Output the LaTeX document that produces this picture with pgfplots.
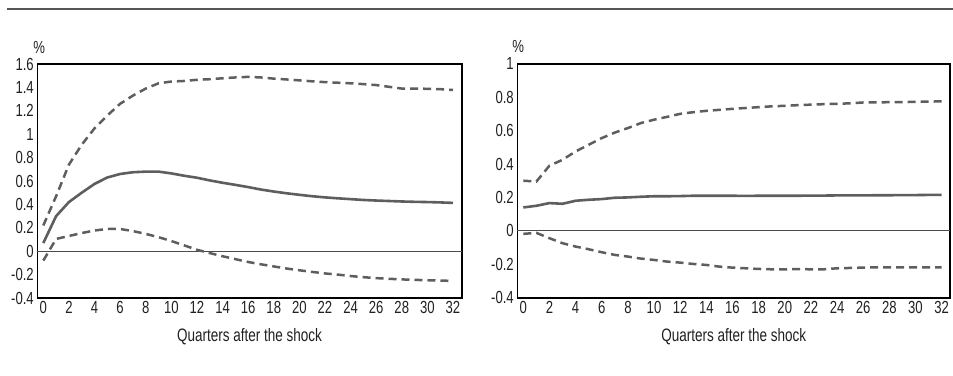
\documentclass[border=0pt]{standalone}
\usepackage{fontspec}
\setmainfont{Liberation Sans}[FakeStretch=0.75]
\usepackage{pgfplots}
\pgfplotsset{compat=1.18}
\usepackage{pgfplotstable}
\definecolor{ser}{HTML}{5E5E5E}
\definecolor{txt}{HTML}{231F20}

\pgfplotstableread{
q u s l
0 0.22 0.07 -0.08
1 0.47 0.30 0.105
2 0.74 0.42 0.13
3 0.91 0.50 0.155
4 1.05 0.575 0.177
5 1.16 0.63 0.19
6 1.26 0.66 0.19
7 1.33 0.675 0.172
8 1.39 0.68 0.148
9 1.435 0.68 0.12
10 1.45 0.665 0.087
11 1.455 0.645 0.05
12 1.465 0.628 0.012
13 1.47 0.605 -0.016
14 1.478 0.585 -0.043
15 1.485 0.567 -0.068
16 1.49 0.548 -0.092
17 1.485 0.527 -0.112
18 1.475 0.51 -0.13
19 1.468 0.495 -0.148
20 1.46 0.482 -0.163
21 1.452 0.47 -0.177
22 1.445 0.46 -0.19
23 1.44 0.452 -0.2
24 1.435 0.445 -0.212
25 1.428 0.438 -0.222
26 1.42 0.433 -0.23
27 1.405 0.429 -0.236
28 1.39 0.425 -0.241
29 1.39 0.422 -0.245
30 1.388 0.42 -0.248
31 1.385 0.417 -0.251
32 1.378 0.413 -0.254
}\left

\pgfplotstableread{
q u s l
0 0.30 0.14 -0.018
1 0.295 0.15 -0.012
2 0.39 0.166 -0.044
3 0.425 0.162 -0.074
4 0.475 0.18 -0.094
5 0.515 0.186 -0.11
6 0.555 0.19 -0.128
7 0.588 0.198 -0.144
8 0.615 0.2 -0.154
9 0.645 0.204 -0.166
10 0.665 0.207 -0.174
11 0.682 0.207 -0.184
12 0.70 0.208 -0.19
13 0.71 0.21 -0.198
14 0.718 0.21 -0.204
15 0.724 0.21 -0.214
16 0.73 0.21 -0.22
17 0.735 0.209 -0.224
18 0.74 0.21 -0.228
19 0.745 0.21 -0.23
20 0.748 0.21 -0.23
21 0.752 0.21 -0.229
22 0.755 0.211 -0.23
23 0.758 0.211 -0.23
24 0.76 0.212 -0.224
25 0.763 0.212 -0.222
26 0.768 0.212 -0.22
27 0.768 0.213 -0.218
28 0.77 0.213 -0.218
29 0.77 0.214 -0.218
30 0.772 0.214 -0.218
31 0.773 0.215 -0.218
32 0.775 0.215 -0.218
}\right

\pgfplotsset{
  base/.style={
    scale only axis,
    height=234pt,
    axis line style={line width=1.6pt, black},
    major tick length=0pt,
    xtick={0,2,...,32},
    xticklabels={0,2,4,6,8,10,12,14,16,18,20,22,24,26,28,30,32},
    tick label style={font=\fontsize{17.5}{20}\selectfont, text=txt},
    clip=false,
  },
  up/.style={color=ser, line width=2.5pt, dash pattern=on 8pt off 5pt},
  mid/.style={color=ser, line width=2.6pt},
}

\begin{document}
\begin{tikzpicture}
\useasboundingbox (0pt,0pt) rectangle (953pt,-375pt);
\draw[line width=1.5pt, color=ser!90!black] (7pt,-9pt) -- (953pt,-9pt);

\begin{axis}[base,
  at={(37.3pt,-298pt)}, anchor=south west,
  width=424.4pt,
  xmin=-0.47, xmax=32.68, ymin=-0.4, ymax=1.6,
  ytick={-0.4,-0.2,0,0.2,0.4,0.6,0.8,1,1.2,1.4,1.6},
  yticklabels={-0.4,-0.2,0,0.2,0.4,0.6,0.8,1,1.2,1.4,1.6},
]
\draw[line width=1.1pt, color=ser!80!black] (axis cs:-0.47,0) -- (axis cs:32.68,0);
\addplot[up] table[x=q,y=u] {\left};
\addplot[mid] table[x=q,y=s] {\left};
\addplot[up] table[x=q,y=l] {\left};
\node[text=txt, font=\fontsize{17.5}{20}\selectfont] at (rel axis cs:0,1) [xshift=2pt, yshift=17pt] {\%};
\node[text=txt, font=\fontsize{18}{20}\selectfont] at (rel axis cs:0.5,0) [yshift=-39pt] {Quarters after the shock};
\end{axis}

\begin{axis}[base,
  at={(517.3pt,-297.7pt)}, anchor=south west,
  width=432.7pt,
  xmin=-0.46, xmax=32.64, ymin=-0.4, ymax=1,
  ytick={-0.4,-0.2,0,0.2,0.4,0.6,0.8,1},
  yticklabels={-0.4,-0.2,0,0.2,0.4,0.6,0.8,1},
]
\draw[line width=1.1pt, color=ser!80!black] (axis cs:-0.46,0) -- (axis cs:32.64,0);
\addplot[up] table[x=q,y=u] {\right};
\addplot[mid] table[x=q,y=s] {\right};
\addplot[up] table[x=q,y=l] {\right};
\node[text=txt, font=\fontsize{17.5}{20}\selectfont] at (rel axis cs:0,1) [xshift=1pt, yshift=17pt] {\%};
\node[text=txt, font=\fontsize{18}{20}\selectfont] at (rel axis cs:0.5,0) [yshift=-39pt] {Quarters after the shock};
\end{axis}
\end{tikzpicture}
\end{document}
